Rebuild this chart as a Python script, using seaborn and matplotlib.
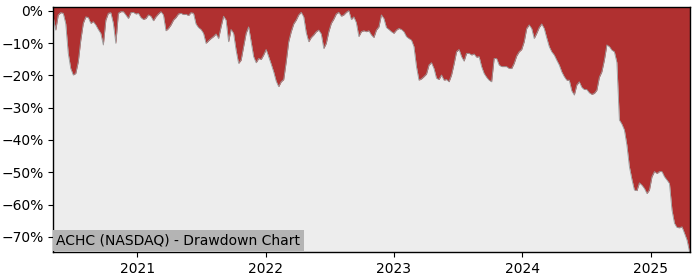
import matplotlib
matplotlib.use("Agg")
import matplotlib.pyplot as plt
import matplotlib.ticker as mticker
import matplotlib.dates as mdates
import seaborn as sns
import pandas as pd
import numpy as np

title = "ACHC (NASDAQ) - Drawdown Chart"
start_date = "2020-05-07"
end_date = "2025-04-21"

# drawdown in percent, evenly spaced in time from start_date to end_date
drawdown = [
    -1.9, -6.0, -1.3, -0.6, -0.8, -4.0, -13.2, -17.9, -19.9, -19.4,
    -15.8, -9.1, -3.9, -1.9, -2.1, -3.9, -3.4, -4.4, -5.8, -7.0,
    -10.6, -2.9, -0.8, -0.6, -3.9, -10.1, -0.8, -0.3, -0.3, -1.3,
    -2.4, -0.6, -0.5, -1.0, -0.8, -2.1, -2.7, -2.4, -1.3, -1.7,
    -3.1, -1.9, -1.0, -0.3, -1.3, -6.2, -5.5, -4.4, -2.9, -2.1,
    -1.0, -0.8, -1.2, -1.1, -1.5, -0.6, -0.8, -4.1, -5.2, -5.8,
    -7.0, -10.1, -9.3, -8.6, -8.0, -7.2, -8.6, -5.0, -1.7, -2.9,
    -9.6, -5.8, -7.0, -12.2, -16.3, -15.3, -11.1, -7.0, -5.0, -9.6,
    -14.2, -16.1, -14.8, -15.1, -13.7, -12.0, -14.2, -16.5, -18.9, -21.8,
    -23.5, -22.0, -21.3, -15.8, -9.6, -6.5, -4.1, -2.9, -1.3, -0.5,
    -1.9, -6.8, -9.6, -8.3, -7.5, -6.5, -6.0, -7.2, -11.7, -10.1,
    -6.5, -3.9, -2.6, -1.0, -0.5, -1.7, -1.3, -0.5, 0.0, -2.7,
    -1.9, -3.7, -8.0, -6.5, -6.2, -6.5, -6.2, -7.5, -8.3, -6.0,
    -5.0, -1.3, -2.4, -5.2, -5.8, -6.5, -7.0, -6.0, -5.5, -5.8,
    -6.5, -8.0, -8.6, -9.1, -11.1, -17.3, -21.5, -21.1, -20.4, -19.6,
    -16.8, -16.1, -17.9, -20.9, -21.3, -19.9, -21.5, -21.3, -22.0, -19.9,
    -16.5, -12.7, -12.0, -14.2, -15.6, -13.2, -13.2, -13.7, -13.4, -14.4,
    -14.2, -17.3, -19.4, -20.6, -21.5, -22.0, -14.8, -14.8, -16.8, -17.3,
    -17.3, -17.3, -17.9, -17.9, -16.3, -14.0, -12.7, -12.0, -9.6, -5.5,
    -4.4, -5.5, -8.6, -7.0, -5.2, -4.1, -5.5, -8.4, -11.1, -12.7,
    -13.7, -15.3, -16.8, -18.9, -20.4, -21.5, -21.5, -24.8, -26.1, -23.0,
    -22.0, -23.7, -24.4, -24.4, -25.4, -25.9, -25.6, -24.6, -20.6, -18.9,
    -15.3, -10.6, -11.1, -12.2, -12.7, -16.0, -33.8, -35.1, -36.9, -41.6,
    -48.3, -52.2, -55.5, -55.7, -53.3, -54.0, -55.0, -56.6, -55.5, -51.4,
    -49.8, -50.4, -49.8, -49.8, -51.4, -52.4, -53.5, -61.7, -65.8, -67.1,
    -67.2, -66.9, -68.9, -71.0, -74.6,
]

dates = pd.date_range(start_date, end_date, periods=len(drawdown))
df = pd.DataFrame({"date": dates, "drawdown": drawdown})

fig = plt.figure(figsize=(7, 2.8), dpi=100)
ax = fig.add_axes([0.076, 0.1, 0.909, 0.875])
ax.set_facecolor("#ededed")

top = 1.15
ax.fill_between(df["date"], df["drawdown"], top, color="#b03030", linewidth=0)
sns.lineplot(data=df, x="date", y="drawdown", ax=ax, color="#9a9a9a", linewidth=0.6)

ax.set_xlim(df["date"].min(), df["date"].max())
ax.set_ylim(-74.7, top)
ax.set_xlabel("")
ax.set_ylabel("")

ax.yaxis.set_major_locator(mticker.MultipleLocator(10))
ax.yaxis.set_major_formatter(mticker.FuncFormatter(lambda v, p: f"{v:.0f}%".replace("-", "\u2212")))
ax.xaxis.set_major_locator(mdates.YearLocator())
ax.xaxis.set_major_formatter(mdates.DateFormatter("%Y"))
ax.tick_params(labelsize=10)

for s in ax.spines.values():
    s.set_color("black")
    s.set_linewidth(1)

ax.text(0.005, 0.02, title, transform=ax.transAxes, fontsize=10, color="black",
        ha="left", va="bottom",
        bbox=dict(facecolor="#b4b4b4", edgecolor="none", pad=2.5))

fig.savefig("out.png", dpi=100)
